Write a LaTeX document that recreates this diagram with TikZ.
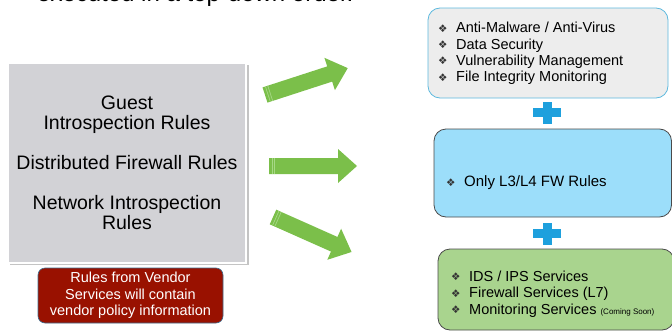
\documentclass[tikz,border=0pt]{standalone}
\usepackage{fontspec}
\setmainfont{Liberation Sans}
\newfontfamily\dejavu{DejaVu Sans}
\usetikzlibrary{positioning}
\definecolor{boxgray}{HTML}{D2D2D6}
\definecolor{shadowgray}{HTML}{C4C4C4}
\definecolor{vendorred}{HTML}{991100}
\definecolor{vendorborder}{HTML}{3C6E90}
\definecolor{arrowgreen}{HTML}{7BBF4A}
\definecolor{arrowlight}{HTML}{A6D886}
\definecolor{topfill}{HTML}{EDEDED}
\definecolor{topborder}{HTML}{5DB9DE}
\definecolor{midfill}{HTML}{9CDEFA}
\definecolor{lowfill}{HTML}{A9D48E}
\definecolor{darkborder}{HTML}{4A4A4A}
\definecolor{plusblue}{HTML}{1EA0DD}
\definecolor{bulletgray}{HTML}{333333}
\newcommand{\bul}{\makebox[18pt][l]{\raisebox{0.5pt}{\color{bulletgray}\dejavu\fontsize{10.5}{10}\selectfont ❖}}}
\tikzset{
  rulebox/.style={draw=white, line width=1.5pt, fill=boxgray, minimum width=238pt, minimum height=200pt, align=center, font=\fontsize{19.5}{20}\selectfont},
  vendorbox/.style={draw=vendorborder, line width=0.6pt, fill=vendorred, rounded corners=7pt, minimum width=185pt, minimum height=55pt, align=center, text=white, font=\fontsize{14.5}{16.5}\selectfont, inner sep=0pt},
  svcbox/.style={rounded corners=12pt, line width=0.8pt},
  svctext/.style={anchor=west, align=left, inner sep=0pt, font=\fontsize{14.5}{16.4}\selectfont}
}
\newcommand{\fatarrow}[4]{% tail x, tail y, angle, length
  \begin{scope}[shift={(#1,#2)}, rotate=#3]
    \fill[arrowgreen] (0,8) -- (#4-19,8) -- (#4-19,17) -- (#4,0) -- (#4-19,-17) -- (#4-19,-8) -- (0,-8) -- cycle;
    \draw[arrowlight, line width=0.7pt] (3,8) -- (3,-8);
    \draw[arrowlight, line width=0.7pt] (5.5,8) -- (5.5,-8);
  \end{scope}}
\newcommand{\plussign}[2]{%
  \fill[plusblue] (#1-14,#2-4.5) rectangle (#1+14,#2+4.5);
  \fill[plusblue] (#1-4.5,#2-11) rectangle (#1+4.5,#2+11);}
\begin{document}
\begin{tikzpicture}[x=1pt,y=-1pt]
\useasboundingbox (0,0) rectangle (672,332);
\clip (0,0) rectangle (672,332);
% title, cut off at the top edge as in the reference
\node[anchor=base west, inner sep=0pt, font=\fontsize{24}{24}\selectfont] (title) at (37,1.5) {executed in a top-down order.};
% left gray box
\fill[shadowgray] (9.5,64.5) rectangle (248.5,265);
\node[rulebox] (rules) at (127,163) {Guest\\Introspection Rules\\[20pt]Distributed Firewall Rules\\[20pt]Network Introspection\\Rules};
% vendor note
\node[vendorbox] (vendor) at (130.5,295.5) {Rules from Vendor\\Services will contain\\vendor policy information};
% arrows
\fatarrow{265}{95}{18}{87}
\fatarrow{269}{166}{0}{88}
\fatarrow{273}{217}{-24}{86}
% right boxes
\draw[svcbox, draw=topborder, fill=topfill] (428,8) rectangle (668,98);
\node[svctext] (top) at (438,53.5) {\bul Anti-Malware / Anti-Virus\\\bul Data Security\\\bul Vulnerability Management\\\bul File Integrity Monitoring};
\plussign{547}{112.5}
\draw[svcbox, draw=darkborder, fill=midfill] (434,129) rectangle (671.5,217);
\node[svctext, font=\fontsize{15}{16}\selectfont] (mid) at (446,183) {\bul Only L3/L4 FW Rules};
\plussign{547}{233.5}
\draw[svcbox, draw=darkborder, fill=lowfill] (438,249) rectangle (674,330);
\node[svctext] (low) at (451,294) {\bul IDS / IPS Services\\\bul Firewall Services (L7)\\\bul Monitoring Services {\fontsize{8}{8}\selectfont(Coming Soon)}};
\end{tikzpicture}
\end{document}
